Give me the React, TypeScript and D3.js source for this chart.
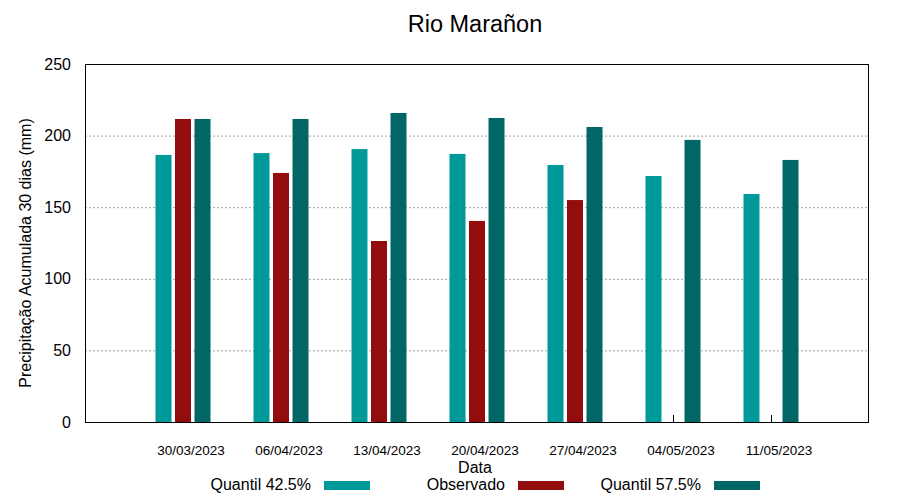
import * as d3 from "d3";
import { useRef, useEffect } from "react";

const dates = [
  "30/03/2023",
  "06/04/2023",
  "13/04/2023",
  "20/04/2023",
  "27/04/2023",
  "04/05/2023",
  "11/05/2023",
];
const quantil425 = [186.5, 187.8, 190.6, 187.2, 179.5, 171.8, 159.2];
const observado: (number | null)[] = [211.6, 173.9, 126.4, 140.4, 155, null, null];
const quantil575 = [211.6, 211.6, 215.8, 212.3, 206, 197, 183];
const yTicks = [0, 50, 100, 150, 200, 250];

const seriesNames = ["Quantil 42.5%", "Observado", "Quantil 57.5%"];
const seriesColors = ["#009999", "#930d0e", "#006666"];

export default function App() {
  const width = 900;
  const height = 500;
  const marginLeft = 85;
  const marginRight = 31;
  const marginTop = 64;
  const marginBottom = 78;

  const ref = useRef<SVGSVGElement>(null);

  useEffect((): void => {
    if (!ref.current) return;
    const svg = d3.select(ref.current);
    svg.selectAll("*").remove();
    svg.attr("width", width).attr("height", height);

    const font = "'Liberation Sans', Arial, sans-serif";
    const bottom = height - marginBottom;
    const right = width - marginRight;

    const xScale = d3
      .scaleLinear()
      .domain([-1, dates.length])
      .range([marginLeft, right]);

    const yScale = d3
      .scaleLinear()
      .domain([0, 250])
      .range([bottom, marginTop]);

    const sub = d3
      .scaleBand<number>()
      .domain([0, 1, 2])
      .range([-27.5, 27.5])
      .paddingInner(0.18);

    // grid
    svg
      .append("g")
      .selectAll("line")
      .data(yTicks.filter((t) => t > 0 && t < 250))
      .enter()
      .append("line")
      .attr("x1", marginLeft)
      .attr("x2", right)
      .attr("y1", (d) => yScale(d) + 0.5)
      .attr("y2", (d) => yScale(d) + 0.5)
      .attr("stroke", "#a0a0a0")
      .attr("stroke-width", 1)
      .attr("stroke-dasharray", "2,2");

    // x ticks (under bars)
    svg
      .append("g")
      .selectAll("line")
      .data(dates)
      .enter()
      .append("line")
      .attr("x1", (_, i) => Math.round(xScale(i)) + 0.5)
      .attr("x2", (_, i) => Math.round(xScale(i)) + 0.5)
      .attr("y1", bottom)
      .attr("y2", bottom - 7)
      .attr("stroke", "#000");

    // bars
    const series = [quantil425, observado, quantil575];
    series.forEach((values, s) => {
      const points = values
        .map((v, i) => ({ i, v }))
        .filter((p) => p.v !== null) as { i: number; v: number }[];
      svg
        .append("g")
        .selectAll("rect")
        .data(points)
        .enter()
        .append("rect")
        .attr("x", (d) => xScale(d.i) + (sub(s) as number))
        .attr("y", (d) => yScale(d.v))
        .attr("width", sub.bandwidth())
        .attr("height", (d) => bottom - yScale(d.v))
        .attr("fill", seriesColors[s]);
    });

    // border
    svg
      .append("rect")
      .attr("x", marginLeft + 0.5)
      .attr("y", marginTop + 0.5)
      .attr("width", right - marginLeft - 1)
      .attr("height", bottom - marginTop)
      .attr("fill", "none")
      .attr("stroke", "#000");

    // y tick labels
    svg
      .append("g")
      .selectAll("text")
      .data(yTicks)
      .enter()
      .append("text")
      .attr("x", 71)
      .attr("y", (d) => yScale(d))
      .attr("dy", "0.35em")
      .attr("text-anchor", "end")
      .attr("font-family", font)
      .attr("font-size", 16)
      .text((d) => d);

    // x tick labels
    svg
      .append("g")
      .selectAll("text")
      .data(dates)
      .enter()
      .append("text")
      .attr("x", (_, i) => xScale(i) + 8)
      .attr("y", 455)
      .attr("text-anchor", "middle")
      .attr("font-family", font)
      .attr("font-size", 13.5)
      .text((d) => d);

    // title
    svg
      .append("text")
      .attr("x", 475)
      .attr("y", 32)
      .attr("text-anchor", "middle")
      .attr("font-family", font)
      .attr("font-size", 23.5)
      .text("Rio Marañon");

    // axis labels
    svg
      .append("text")
      .attr("transform", `translate(31, ${253}) rotate(-90)`)
      .attr("text-anchor", "middle")
      .attr("font-family", font)
      .attr("font-size", 16)
      .text("Precipitação Acumulada 30 dias (mm)");

    svg
      .append("text")
      .attr("x", 475)
      .attr("y", 473)
      .attr("text-anchor", "middle")
      .attr("font-family", font)
      .attr("font-size", 16)
      .text("Data");

    // legend
    const legendRight = [311, 505, 701];
    const legend = svg
      .append("g")
      .selectAll("g")
      .data(seriesNames)
      .enter()
      .append("g");
    legend
      .append("text")
      .attr("x", (_, i) => legendRight[i])
      .attr("y", 490)
      .attr("text-anchor", "end")
      .attr("font-family", font)
      .attr("font-size", 16)
      .text((d) => d);
    legend
      .append("rect")
      .attr("x", (_, i) => legendRight[i] + 13)
      .attr("y", 481)
      .attr("width", 46)
      .attr("height", 9)
      .attr("fill", (_, i) => seriesColors[i]);
  }, []);

  return (
    <>
      <style>{"body{margin:0}"}</style>
      <svg ref={ref} style={{ display: "block" }} />
    </>
  );
}
